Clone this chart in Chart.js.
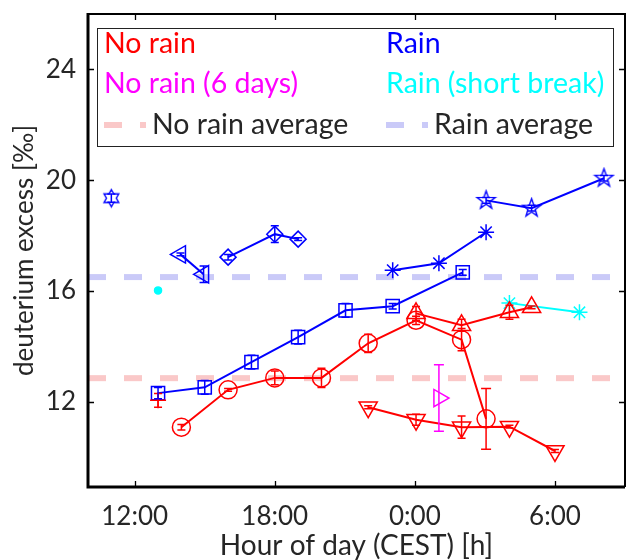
<!DOCTYPE html>
<html>
<head>
<meta charset="utf-8">
<script src="https://cdn.jsdelivr.net/npm/chart.js@4/dist/chart.umd.min.js"></script>
<style>
  html, body { margin: 0; padding: 0; overflow: hidden; background: #fff; }
  #wrap { width: 637px; height: 560px; }
</style>
</head>
<body>
<div id="wrap"><canvas id="chart" width="637" height="560"></canvas></div>
<script>
// axes
const xMin = 10, xMax = 33, yMin = 8.92, yMax = 26;
const xTicks = [12, 18, 24, 30];
const xTickLabels = ['12:00', '18:00', '0:00', '6:00'];
const yTicks = [12, 16, 20, 24];

// No rain (red)
const noRainCircleX = [14.0, 16.0, 18.0, 20.0, 22.0, 24.05, 26.0, 27.05];
const noRainCircleY = [11.08, 12.43, 12.86, 12.86, 14.11, 14.94, 14.24, 11.38];
const noRainCircleErr = [0.1, 0.05, 0.25, 0.35, 0.33, 0.15, 0.4, 1.1];
const noRainUpX = [24.05, 26.0, 28.05, 29.0];
const noRainUpY = [15.19, 14.76, 15.23, 15.41];
const noRainUpErr = [0.25, 0.22, 0.25, 0.05];
const noRainDownX = [22.0, 24.05, 26.0, 28.05, 30.0];
const noRainDownY = [11.8, 11.35, 11.08, 11.1, 10.22];
const noRainDownErr = [0.05, 0.2, 0.4, 0.05, 0.05];
const noRainPlusX = [13.0];
const noRainPlusY = [12.05];
const noRainPlusErr = [0.25];

// No rain (6 days), magenta
const noRain6X = [25.03];
const noRain6Y = [12.13];
const noRain6Err = [1.2];

// Rain (blue)
const rainHexX = [11.0];
const rainHexY = [19.35];
const rainHexErr = [0.15];
const rainLeftX = [13.96, 14.95];
const rainLeftY = [17.32, 16.6];
const rainLeftErr = [0.05, 0.3];
const rainDiamondX = [16.0, 18.0, 19.0];
const rainDiamondY = [17.22, 18.05, 17.87];
const rainDiamondErr = [0.1, 0.3, 0.05];
const rainSquareX = [13.0, 15.0, 17.0, 19.0, 21.03, 23.05, 26.05];
const rainSquareY = [12.31, 12.52, 13.43, 14.33, 15.3, 15.45, 16.67];
const rainSquareErr = [0.2, 0.25, 0.25, 0.25, 0.25, 0.1, 0.1];
const rainStarX = [23.05, 25.03, 27.05];
const rainStarY = [16.75, 17.0, 18.12];
const rainPentaX = [27.05, 29.0, 32.1];
const rainPentaY = [19.27, 18.99, 20.07];
const rainPentaErr = [0.1, 0.1, 0.1];

// Rain (short break), cyan
const rainBreakDotX = [13.0];
const rainBreakDotY = [16.02];
const rainBreakStarX = [28.05, 31.05];
const rainBreakStarY = [15.56, 15.23];

// averages
const noRainAverage = 12.85;
const rainAverage = 16.5;

const legendLabels = ['No rain', 'Rain', 'No rain (6 days)', 'Rain (short break)', 'No rain average', 'Rain average'];

const RED = '#ff0000', BLUE = '#0000ff', MAGENTA = '#ff00ff', CYAN = '#00ffff';
const RED_AVG = 'rgb(250,200,200)', BLUE_AVG = 'rgb(202,202,248)';
const TEXT = '#262626';
const FONT = 'Lato';

const pts = (xs, ys) => xs.map((x, i) => ({ x, y: ys[i] }));

function starMarker(points, outerR, innerR, color) {
    const size = Math.ceil(outerR * 2 + 4);
    const c = document.createElement('canvas');
    c.width = c.height = size;
    const g = c.getContext('2d');
    g.strokeStyle = color;
    g.lineWidth = 1.4;
    g.beginPath();
    for (let k = 0; k < points * 2; k++) {
        const r = k % 2 ? innerR : outerR;
        const a = -Math.PI / 2 + k * Math.PI / points;
        const px = size / 2 + r * Math.cos(a), py = size / 2 + r * Math.sin(a);
        if (k) g.lineTo(px, py); else g.moveTo(px, py);
    }
    g.closePath();
    g.stroke();
    return c;
}

const pentagram = starMarker(5, 9.5, 3.8, BLUE);
const hexagram = starMarker(6, 8.5, 4.9, BLUE);

function series(xs, ys, color, style, radius, extra = {}) {
    return Object.assign({
        data: pts(xs, ys),
        borderColor: color,
        backgroundColor: 'transparent',
        pointStyle: style,
        pointRadius: radius,
        pointBorderWidth: 1.5,
        borderWidth: 2,
        showLine: true,
        order: 1,
    }, extra);
}

function average(value, color) {
    return {
        data: [{ x: xMin, y: value }, { x: xMax, y: value }],
        borderColor: color,
        borderWidth: 6,
        borderDash: [18, 18],
        borderCapStyle: 'butt',
        pointRadius: 0,
        showLine: true,
        order: 10,
    };
}

const datasets = [
    series(noRainCircleX, noRainCircleY, RED, 'circle', 9, { errors: noRainCircleErr }),
    series(noRainUpX, noRainUpY, RED, 'triangle', 10.5, { errors: noRainUpErr }),
    series(noRainDownX, noRainDownY, RED, 'triangle', 10.5, { errors: noRainDownErr, pointRotation: 180 }),
    series(noRainPlusX, noRainPlusY, RED, 'cross', 8, { errors: noRainPlusErr }),
    series(noRain6X, noRain6Y, MAGENTA, 'triangle', 10, { errors: noRain6Err, pointRotation: 90 }),
    series(rainHexX, rainHexY, BLUE, hexagram, 9, { errors: rainHexErr }),
    series(rainLeftX, rainLeftY, BLUE, 'triangle', 10, { errors: rainLeftErr, pointRotation: -90 }),
    series(rainDiamondX, rainDiamondY, BLUE, 'rectRot', 8, { errors: rainDiamondErr }),
    series(rainSquareX, rainSquareY, BLUE, 'rect', 9.3, { errors: rainSquareErr }),
    series(rainStarX, rainStarY, BLUE, 'star', 8),
    series(rainPentaX, rainPentaY, BLUE, pentagram, 9, { errors: rainPentaErr }),
    series(rainBreakDotX, rainBreakDotY, CYAN, 'circle', 3.5, { backgroundColor: CYAN, showLine: false }),
    series(rainBreakStarX, rainBreakStarY, CYAN, 'star', 8),
    average(noRainAverage, RED_AVG),
    average(rainAverage, BLUE_AVG),
];

const errorBars = {
    id: 'errorBars',
    afterDatasetsDraw(chart) {
        const { ctx, scales: { x, y } } = chart;
        chart.data.datasets.forEach((ds) => {
            if (!ds.errors) return;
            ctx.save();
            ctx.strokeStyle = ds.borderColor;
            ctx.lineWidth = 1.5;
            ds.data.forEach((p, j) => {
                const e = ds.errors[j];
                if (!e) return;
                const px = x.getPixelForValue(p.x);
                const top = y.getPixelForValue(p.y + e);
                const bot = y.getPixelForValue(p.y - e);
                const cap = e > 1 ? 5 : 4;
                ctx.beginPath();
                ctx.moveTo(px, top); ctx.lineTo(px, bot);
                ctx.moveTo(px - cap, top); ctx.lineTo(px + cap, top);
                ctx.moveTo(px - cap, bot); ctx.lineTo(px + cap, bot);
                ctx.stroke();
            });
            ctx.restore();
        });
    },
};

// box, inward ticks and the legend (MATLAB style)
const frame = {
    id: 'frame',
    afterDraw(chart) {
        const { ctx, chartArea: a, scales: { x, y } } = chart;
        ctx.save();
        ctx.strokeStyle = '#000';
        ctx.lineWidth = 2;
        ctx.beginPath();
        ctx.moveTo(a.left, a.top); ctx.lineTo(a.right, a.top); ctx.lineTo(a.right, a.bottom);
        ctx.stroke();
        ctx.lineWidth = 3;
        ctx.beginPath();
        ctx.moveTo(a.left, a.top - 1); ctx.lineTo(a.left, a.bottom); ctx.lineTo(a.right, a.bottom);
        ctx.stroke();

        ctx.lineWidth = 1.3;
        ctx.beginPath();
        xTicks.forEach((v) => {
            const px = Math.round(x.getPixelForValue(v)) + 0.5;
            ctx.moveTo(px, a.bottom); ctx.lineTo(px, a.bottom - 6);
            ctx.moveTo(px, a.top); ctx.lineTo(px, a.top + 6);
        });
        yTicks.forEach((v) => {
            const py = Math.round(y.getPixelForValue(v)) + 0.5;
            ctx.moveTo(a.left, py); ctx.lineTo(a.left + 6, py);
            ctx.moveTo(a.right, py); ctx.lineTo(a.right - 6, py);
        });
        ctx.stroke();

        // legend
        ctx.fillStyle = '#fff';
        ctx.fillRect(97, 28, 517, 119);
        ctx.strokeStyle = '#222';
        ctx.lineWidth = 1;
        ctx.strokeRect(97.5, 28.5, 516, 118);

        ctx.font = `28.5px ${FONT}`;
        ctx.textBaseline = 'alphabetic';
        ctx.textAlign = 'left';
        const col = [104, 386];
        const rows = [53, 93, 134];
        ctx.fillStyle = RED; ctx.fillText(legendLabels[0], col[0], rows[0]);
        ctx.fillStyle = BLUE; ctx.fillText(legendLabels[1], col[1], rows[0]);
        ctx.fillStyle = MAGENTA; ctx.fillText(legendLabels[2], col[0], rows[1]);
        ctx.fillStyle = CYAN; ctx.fillText(legendLabels[3], col[1], rows[1]);
        ctx.fillStyle = TEXT;
        ctx.fillText(legendLabels[4], col[0] + 48, rows[2]);
        ctx.fillText(legendLabels[5], col[1] + 48, rows[2]);
        ctx.lineWidth = 6;
        ctx.setLineDash([18, 18]);
        [[col[0], RED_AVG], [col[1], BLUE_AVG]].forEach(([cx, c]) => {
            ctx.strokeStyle = c;
            ctx.beginPath();
            ctx.moveTo(cx, 125); ctx.lineTo(cx + 42, 125);
            ctx.stroke();
        });
        ctx.restore();
    },
};

new Chart(document.getElementById('chart'), {
    type: 'scatter',
    data: { datasets },
    options: {
        responsive: false,
        animation: false,
        events: [],
        layout: { padding: { left: 0, right: 2, top: 14, bottom: 0 } },
        plugins: { legend: { display: false }, tooltip: { enabled: false } },
        scales: {
            x: {
                type: 'linear', min: xMin, max: xMax,
                afterFit: (s) => { s.height = 73; s.paddingLeft = 0; s.paddingRight = 0; },
                afterBuildTicks: (s) => { s.ticks = xTicks.map((v) => ({ value: v })); },
                ticks: {
                    callback: (v) => xTickLabels[xTicks.indexOf(v)],
                    font: { family: FONT, size: 26 }, color: TEXT,
                    padding: 14, maxRotation: 0, autoSkip: false,
                },
                grid: { display: false, drawTicks: false },
                border: { display: false },
                title: {
                    display: true, text: 'Hour of day (CEST) [h]',
                    font: { family: FONT, size: 28, lineHeight: 1 }, color: TEXT,
                    padding: { top: 0, bottom: 0 },
                },
            },
            y: {
                type: 'linear', min: yMin, max: yMax,
                afterFit: (s) => { s.width = 88; s.paddingTop = 0; s.paddingBottom = 0; },
                afterBuildTicks: (s) => { s.ticks = yTicks.map((v) => ({ value: v })); },
                ticks: {
                    font: { family: FONT, size: 26 }, color: TEXT,
                    padding: 12,
                },
                grid: { display: false, drawTicks: false },
                border: { display: false },
                title: {
                    display: true, text: 'deuterium excess [‰]',
                    font: { family: FONT, size: 26, lineHeight: 1 }, color: TEXT,
                    padding: { top: 12, bottom: 0 },
                },
            },
        },
    },
    plugins: [errorBars, frame],
});
</script>
</body>
</html>
